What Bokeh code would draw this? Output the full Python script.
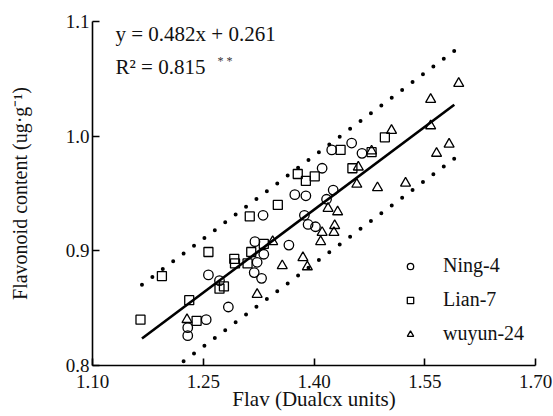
from bokeh.plotting import figure
from bokeh.models import Range1d, FixedTicker, Label, Legend, LegendItem, NumeralTickFormatter
from bokeh.embed import file_html
from bokeh.resources import INLINE
import numpy as np

# ---- data ----
ning_x = [1.229, 1.229, 1.254, 1.257, 1.272, 1.284, 1.320, 1.332, 1.323, 1.319, 1.329, 1.366,
          1.331, 1.374, 1.389, 1.387, 1.392, 1.402, 1.417, 1.426, 1.411, 1.424, 1.451, 1.465]
ning_y = [0.833, 0.826, 0.840, 0.879, 0.874, 0.851, 0.908, 0.897, 0.890, 0.881, 0.876, 0.905,
          0.931, 0.949, 0.948, 0.931, 0.923, 0.921, 0.945, 0.953, 0.972, 0.988, 0.994, 0.985]

lian_x = [1.165, 1.194, 1.231, 1.241, 1.257, 1.272, 1.278, 1.292, 1.293, 1.315, 1.332, 1.310,
          1.313, 1.351, 1.378, 1.389, 1.401, 1.436, 1.452, 1.478, 1.496]
lian_y = [0.840, 0.878, 0.857, 0.839, 0.899, 0.867, 0.869, 0.893, 0.889, 0.899, 0.906, 0.889,
          0.930, 0.940, 0.967, 0.961, 0.965, 0.988, 0.972, 0.986, 0.999]

wuyun_x = [1.228, 1.323, 1.344, 1.357, 1.385, 1.391, 1.409, 1.411, 1.427, 1.428, 1.419, 1.432,
           1.458, 1.486, 1.460, 1.478, 1.505, 1.524, 1.558, 1.558, 1.566, 1.583, 1.596]
wuyun_y = [0.840, 0.862, 0.908, 0.887, 0.894, 0.886, 0.908, 0.916, 0.916, 0.922, 0.937, 0.934,
           0.958, 0.955, 0.973, 0.987, 1.005, 0.959, 1.032, 1.009, 0.985, 0.993, 1.046]

fit_slope = 0.482
fit_intercept = 0.261
fit_x = [1.167, 1.590]
band_half = 0.047

x_ticks = [1.10, 1.25, 1.40, 1.55, 1.70]
y_ticks = [0.8, 0.9, 1.0, 1.1]

eq_text = "y = 0.482x + 0.261"
r2_text = "R\u00b2 = 0.815"
sig_text = "* *"

FONT = "Liberation Serif"

p = figure(width=553, height=416, x_range=Range1d(1.10, 1.70), y_range=Range1d(0.8, 1.1),
           output_backend="svg", toolbar_location=None,
           min_border_left=92, min_border_right=18, min_border_top=21, min_border_bottom=51)
p.outline_line_color = None
p.xgrid.visible = False
p.ygrid.visible = False

for ax in (p.xaxis[0], p.yaxis[0]):
    ax.axis_line_width = 1.6
    ax.axis_line_color = "black"
    ax.major_tick_line_width = 1.6
    ax.major_tick_line_color = "black"
    ax.major_tick_in = 7
    ax.major_tick_out = 0
    ax.minor_tick_line_color = None
    ax.major_label_text_font = FONT
    ax.major_label_text_font_size = "19px"
    ax.major_label_text_color = "#111111"
    ax.axis_label_text_font = FONT
    ax.axis_label_text_font_style = "normal"
    ax.axis_label_text_color = "#111111"

p.xaxis.ticker = FixedTicker(ticks=x_ticks)
p.yaxis.ticker = FixedTicker(ticks=y_ticks)
p.xaxis.formatter = NumeralTickFormatter(format="0.00")
p.yaxis.formatter = NumeralTickFormatter(format="0.0")
p.xaxis.major_label_standoff = 9
p.yaxis.major_label_standoff = 3

p.yaxis.axis_label = "Flavonoid content (ug\u00b7g\u207b\u00b9)"
p.yaxis.axis_label_text_font_size = "20px"
p.yaxis.axis_label_standoff = 32

p.xaxis.axis_label = "Flav (Dualcx units)"
p.xaxis.axis_label_text_font_size = "21px"
p.xaxis.axis_label_standoff = -4

# fitted line and prediction band
fx = np.array(fit_x)
fy = fit_slope * fx + fit_intercept
p.line(fx, fy, line_color="black", line_width=2.6)
p.line(fx, fy + band_half, line_color="black", line_width=4, line_dash="0 13", line_cap="round")
p.line(fx, fy - band_half, line_color="black", line_width=4, line_dash="0 13", line_cap="round")

r1 = p.scatter(ning_x, ning_y, marker="circle", size=9.5, line_color="black", line_width=1.3, fill_color=None)
r2 = p.scatter(lian_x, lian_y, marker="square", size=9, line_color="black", line_width=1.3, fill_color=None)
r3 = p.scatter(wuyun_x, wuyun_y, marker="triangle", size=10, line_color="black", line_width=1.3, fill_color=None)

legend = Legend(items=[LegendItem(label="Ning-4", renderers=[r1]),
                       LegendItem(label="Lian-7", renderers=[r2]),
                       LegendItem(label="wuyun-24", renderers=[r3])],
                location=(310, 20))
legend.border_line_color = None
legend.background_fill_alpha = 0
legend.padding = 0
legend.margin = 0
legend.spacing = 11
legend.glyph_width = 16
legend.glyph_height = 20
legend.label_height = 20
legend.label_standoff = 25
legend.label_text_font = FONT
legend.label_text_font_size = "20px"
legend.label_text_color = "#111111"
p.add_layout(legend)

p.add_layout(Label(x=23, y=332, x_units="screen", y_units="screen", text=eq_text,
                   text_font=FONT, text_font_size="21px", text_baseline="middle", text_color="#111111"))
p.add_layout(Label(x=23, y=299, x_units="screen", y_units="screen", text=r2_text,
                   text_font=FONT, text_font_size="21px", text_baseline="middle", text_color="#111111"))
p.add_layout(Label(x=125, y=305, x_units="screen", y_units="screen", text=sig_text,
                   text_font=FONT, text_font_size="12px", text_baseline="middle", text_color="#333333"))

open("out.html", "w").write(file_html(p, INLINE))
